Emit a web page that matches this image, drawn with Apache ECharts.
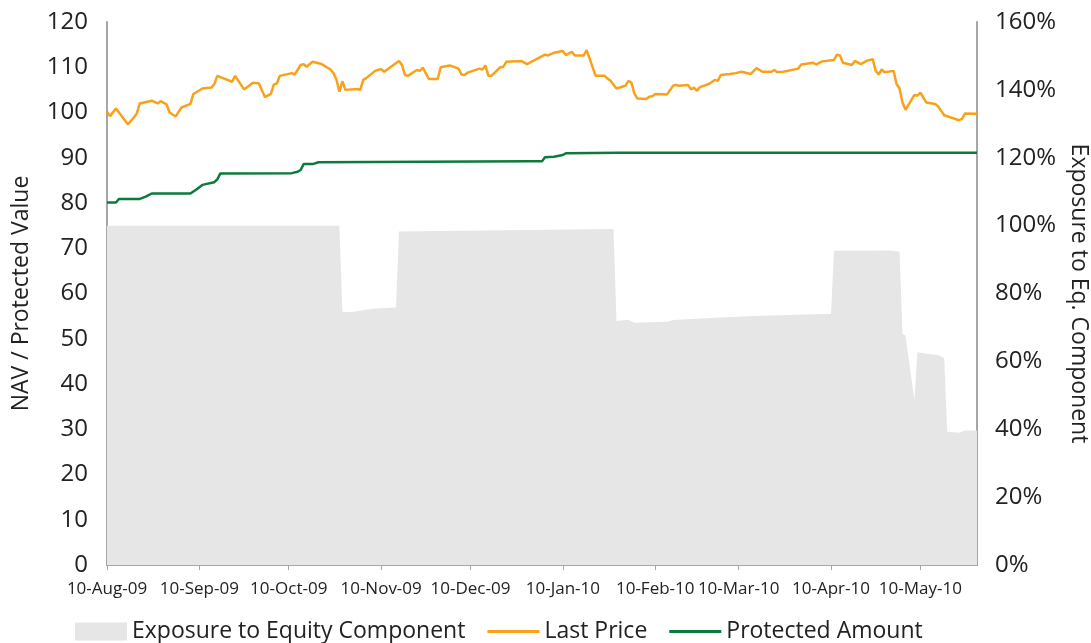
<!DOCTYPE html>
<html>
<head>
<meta charset="utf-8">
<script src="https://cdn.jsdelivr.net/npm/echarts@6/dist/echarts.min.js"></script>
<style>
  html, body { margin: 0; padding: 0; background: #fff; }
  #chart { width: 1091px; height: 643px; }
</style>
</head>
<body>
<div id="chart"></div>
<script>
// x axis: 10th of each month, Aug-09 .. May-10
var tickDates = ['2009-08-10', '2009-09-10', '2009-10-10', '2009-11-10', '2009-12-10',
  '2010-01-10', '2010-02-10', '2010-03-10', '2010-04-10', '2010-05-10'];

// Last Price (NAV)
var priceDates = ['2009-08-10', '2009-08-11', '2009-08-13', '2009-08-17', '2009-08-19', '2009-08-20',
  '2009-08-21', '2009-08-25', '2009-08-27', '2009-08-28', '2009-08-30', '2009-08-31',
  '2009-09-02', '2009-09-04', '2009-09-07', '2009-09-08', '2009-09-11', '2009-09-14',
  '2009-09-15', '2009-09-16', '2009-09-21', '2009-09-22', '2009-09-25', '2009-09-28',
  '2009-09-30', '2009-10-02', '2009-10-04', '2009-10-05', '2009-10-06', '2009-10-07',
  '2009-10-11', '2009-10-12', '2009-10-14', '2009-10-15', '2009-10-16', '2009-10-18',
  '2009-10-21', '2009-10-24', '2009-10-25', '2009-10-26', '2009-10-27', '2009-10-28',
  '2009-10-29', '2009-11-02', '2009-11-03', '2009-11-04', '2009-11-05', '2009-11-08',
  '2009-11-10', '2009-11-11', '2009-11-16', '2009-11-17', '2009-11-18', '2009-11-19',
  '2009-11-22', '2009-11-23', '2009-11-24', '2009-11-26', '2009-11-29', '2009-11-30',
  '2009-12-03', '2009-12-06', '2009-12-07', '2009-12-08', '2009-12-09', '2009-12-13',
  '2009-12-14', '2009-12-15', '2009-12-16', '2009-12-17', '2009-12-20', '2009-12-21',
  '2009-12-22', '2009-12-27', '2009-12-29', '2010-01-04', '2010-01-05', '2010-01-07',
  '2010-01-10', '2010-01-11', '2010-01-13', '2010-01-14', '2010-01-17', '2010-01-18',
  '2010-01-21', '2010-01-24', '2010-01-25', '2010-01-26', '2010-01-28', '2010-01-31',
  '2010-02-01', '2010-02-02', '2010-02-03', '2010-02-04', '2010-02-07', '2010-02-08',
  '2010-02-09', '2010-02-10', '2010-02-14', '2010-02-16', '2010-02-17', '2010-02-18',
  '2010-02-21', '2010-02-22', '2010-02-23', '2010-02-24', '2010-02-25', '2010-02-28',
  '2010-03-02', '2010-03-03', '2010-03-04', '2010-03-07', '2010-03-09', '2010-03-11',
  '2010-03-14', '2010-03-16', '2010-03-18', '2010-03-21', '2010-03-22', '2010-03-23',
  '2010-03-25', '2010-03-30', '2010-03-31', '2010-04-04', '2010-04-05', '2010-04-07',
  '2010-04-11', '2010-04-12', '2010-04-13', '2010-04-14', '2010-04-17', '2010-04-18',
  '2010-04-20', '2010-04-22', '2010-04-24', '2010-04-25', '2010-04-26', '2010-04-27',
  '2010-04-28', '2010-05-01', '2010-05-02', '2010-05-03', '2010-05-04', '2010-05-05',
  '2010-05-08', '2010-05-09', '2010-05-10', '2010-05-12', '2010-05-15', '2010-05-16',
  '2010-05-18', '2010-05-23', '2010-05-24', '2010-05-25', '2010-05-29'];
var priceValues = [100.2, 99.2, 100.9, 97.4, 98.9, 99.8,
  102.0, 102.6, 102.0, 102.5, 101.8, 100.0,
  99.1, 101.1, 101.9, 104.1, 105.3, 105.5,
  106.2, 108.1, 106.8, 108.1, 105.1, 106.6,
  106.4, 103.4, 104.1, 106.2, 106.4, 108.1,
  108.7, 108.4, 110.5, 110.7, 110.1, 111.2,
  110.7, 109.5, 108.7, 107.3, 104.6, 106.9,
  105.0, 105.2, 105.0, 107.2, 107.6, 109.2,
  109.6, 109.0, 111.4, 110.5, 108.3, 108.1,
  109.4, 109.2, 109.9, 107.4, 107.4, 110.0,
  110.4, 109.7, 108.4, 108.3, 108.8, 109.7,
  109.5, 110.4, 108.1, 108.1, 110.0, 110.1,
  111.2, 111.4, 110.7, 112.8, 112.6, 113.2,
  113.6, 112.7, 113.4, 112.6, 112.6, 113.8,
  108.1, 108.1, 107.5, 107.0, 105.3, 105.9,
  107.0, 106.6, 104.2, 103.1, 103.0, 103.5,
  103.6, 104.1, 104.0, 105.9, 106.1, 105.9,
  106.1, 105.1, 105.5, 104.8, 105.6, 106.3,
  107.2, 107.0, 108.3, 108.5, 108.7, 109.0,
  108.5, 109.8, 109.0, 109.0, 109.4, 108.9,
  109.0, 109.7, 110.6, 111.0, 110.6, 111.3,
  111.6, 112.8, 112.6, 111.0, 110.5, 111.4,
  110.7, 111.4, 111.8, 109.2, 108.4, 109.5,
  108.9, 109.2, 106.3, 105.3, 102.2, 100.6,
  103.9, 103.7, 104.4, 102.2, 101.9, 101.3,
  99.4, 98.3, 98.6, 99.8, 99.7];

// Protected Amount
var protectedDates = ['2009-08-10', '2009-08-13', '2009-08-14', '2009-08-21', '2009-08-23', '2009-08-25',
  '2009-09-07', '2009-09-09', '2009-09-11', '2009-09-15', '2009-09-16', '2009-09-17',
  '2009-10-11', '2009-10-13', '2009-10-14', '2009-10-15', '2009-10-18', '2009-10-20',
  '2009-12-30', '2010-01-03', '2010-01-04', '2010-01-07', '2010-01-10', '2010-01-11',
  '2010-01-29', '2010-05-29'];
var protectedValues = [80.1, 80.1, 80.9, 80.9, 81.4, 82.1,
  82.1, 83.0, 84.0, 84.6, 85.2, 86.5,
  86.6, 86.9, 87.3, 88.6, 88.6, 89.0,
  89.2, 89.2, 90.1, 90.2, 90.6, 91.0,
  91.1, 91.1];

// Exposure to Equity Component (%)
var exposureDates = ['2009-08-10', '2009-10-27', '2009-10-28', '2009-10-31', '2009-11-04', '2009-11-08',
  '2009-11-15', '2009-11-16', '2010-01-27', '2010-01-28', '2010-02-01', '2010-02-03',
  '2010-02-14', '2010-02-16', '2010-03-04', '2010-03-15', '2010-04-10', '2010-04-11',
  '2010-04-30', '2010-05-03', '2010-05-04', '2010-05-05', '2010-05-08', '2010-05-09',
  '2010-05-11', '2010-05-16', '2010-05-18', '2010-05-19', '2010-05-23', '2010-05-25',
  '2010-05-29'];
var exposureValues = [100, 100, 74.6, 74.5, 75.1, 75.6,
  75.9, 98.3, 99.0, 71.9, 72.3, 71.4,
  71.7, 72.2, 72.9, 73.4, 74.0, 92.6,
  92.7, 92.3, 68.1, 67.6, 48.6, 62.7,
  62.4, 61.9, 60.9, 39.3, 39.0, 39.6,
  39.6];

var leftTicks = { min: 0, max: 120, interval: 10 };
var rightTicks = { min: 0, max: 160, interval: 20 };

function toTime(s) {
  var p = s.split('-');
  return new Date(+p[0], +p[1] - 1, +p[2]).getTime();
}
function pairs(dates, values) {
  return dates.map(function (d, i) { return [toTime(d), values[i]]; });
}
var monthNames = ['Jan', 'Feb', 'Mar', 'Apr', 'May', 'Jun', 'Jul', 'Aug', 'Sep', 'Oct', 'Nov', 'Dec'];
function fmtDate(v) {
  var d = new Date(v);
  var yy = String(d.getFullYear()).slice(2);
  return d.getDate() + '-' + monthNames[d.getMonth()] + '-' + yy;
}

var fontFam = '"Open Sans", "Noto Sans", sans-serif';
var axisGray = '#a6a6a6';
var tickVals = tickDates.map(toTime);
// thin line legend icon, padded to full icon box
var lineIcon = 'path://M0,0 M0,7.5 L52,7.5 L52,10.5 L0,10.5 Z M52,18';

var myChart = echarts.init(document.getElementById('chart'));

var option = {
  animation: false,
  backgroundColor: '#ffffff',
  textStyle: { fontFamily: fontFam },
  grid: {
    left: 107, right: 114, top: 22, bottom: 78,
    containLabel: false,
    outerBoundsMode: 'none'
  },
  legend: {
    left: 75,
    top: 620,
    padding: 0,
    itemWidth: 52,
    itemHeight: 18,
    itemGap: 22,
    textStyle: { fontSize: 23, color: '#222', fontFamily: fontFam },
    data: [
      { name: 'Exposure to Equity Component', icon: 'rect' },
      { name: 'Last Price', icon: lineIcon },
      { name: 'Protected Amount', icon: lineIcon }
    ]
  },
  xAxis: {
    type: 'value',
    min: toTime('2009-08-10'),
    max: toTime('2010-05-29'),
    axisLine: { show: true, lineStyle: { color: axisGray, width: 2 } },
    axisTick: { show: true, length: 5, customValues: tickVals, lineStyle: { color: axisGray, width: 1 } },
    axisLabel: {
      customValues: tickVals,
      formatter: fmtDate,
      fontSize: 17,
      color: '#222',
      margin: 16,
      hideOverlap: false
    },
    splitLine: { show: false }
  },
  yAxis: [
    {
      type: 'value',
      min: leftTicks.min, max: leftTicks.max, interval: leftTicks.interval,
      name: 'NAV / Protected Value',
      nameLocation: 'middle',
      nameGap: 74,
      nameTextStyle: { fontSize: 23, color: '#222' },
      axisLine: { show: true, lineStyle: { color: axisGray, width: 2 } },
      axisTick: { show: false },
      axisLabel: { fontSize: 24, color: '#222', margin: 19 },
      splitLine: { show: false }
    },
    {
      type: 'value',
      position: 'right',
      min: rightTicks.min, max: rightTicks.max, interval: rightTicks.interval,
      name: 'Exposure to Eq. Component',
      nameLocation: 'middle',
      nameRotate: -90,
      nameGap: 88,
      nameTextStyle: { fontSize: 23, color: '#222' },
      axisLine: { show: true, lineStyle: { color: axisGray, width: 2 } },
      axisTick: { show: false },
      axisLabel: { fontSize: 24, color: '#222', margin: 18, formatter: '{value}%' },
      splitLine: { show: false }
    }
  ],
  series: [
    {
      name: 'Exposure to Equity Component',
      type: 'line',
      yAxisIndex: 1,
      symbol: 'none',
      color: '#e6e6e6',
      lineStyle: { width: 0 },
      areaStyle: { color: '#e6e6e6', opacity: 1 },
      data: pairs(exposureDates, exposureValues),
      z: 1
    },
    {
      name: 'Last Price',
      type: 'line',
      yAxisIndex: 0,
      symbol: 'none',
      color: '#f9a11b',
      lineStyle: { width: 2.5, color: '#f9a11b' },
      data: pairs(priceDates, priceValues),
      z: 3
    },
    {
      name: 'Protected Amount',
      type: 'line',
      yAxisIndex: 0,
      symbol: 'none',
      color: '#0b7a3b',
      lineStyle: { width: 2.5, color: '#0b7a3b' },
      data: pairs(protectedDates, protectedValues),
      z: 3
    }
  ]
};
myChart.setOption(option);
</script>
</body>
</html>
